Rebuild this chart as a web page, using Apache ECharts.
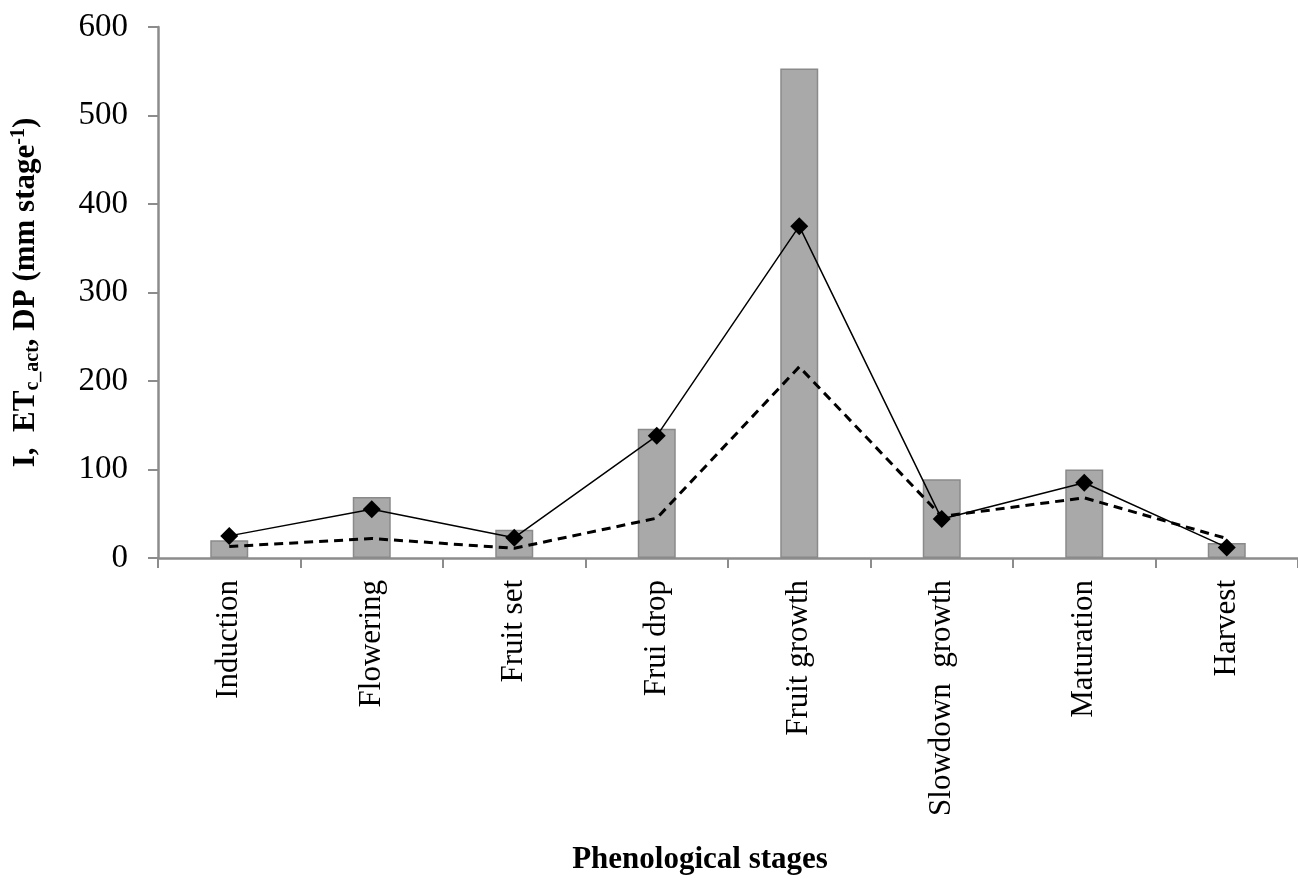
<!DOCTYPE html>
<html>
<head>
<meta charset="utf-8">
<script src="https://cdn.jsdelivr.net/npm/echarts@6/dist/echarts.min.js"></script>
<style>html,body{margin:0;padding:0;background:#fff}#c{width:1298px;height:881px}</style>
</head>
<body>
<div id="c"></div>
<script>
const categories = ['Induction','Flowering','Fruit set','Frui drop','Fruit growth','Slowdown  growth','Maturation','Harvest'];
const barValues = [20, 69, 32, 146, 553, 89, 100, 17];
const solidValues = [25, 55, 23, 138, 375, 44, 85, 12];
const dashedValues = [13, 22, 11, 45, 216, 47, 68, 22];
const yTicks = [0, 600, 100];

const chart = echarts.init(document.getElementById('c'));
const serif = '"Liberation Serif", "Times New Roman", serif';
chart.setOption({
  backgroundColor: '#fff',
  animation: false,
  grid: {left: 158, right: 0, top: 27, bottom: 323},
  xAxis: {
    type: 'category',
    data: categories,
    name: 'Phenological stages',
    nameLocation: 'middle',
    nameGap: 286,
    nameTextStyle: {fontFamily: serif, fontSize: 31, fontWeight: 'bold', color: '#000', padding: [0, 56, 0, 0]},
    axisLine: {lineStyle: {color: '#8c8c8c', width: 2.5}},
    axisTick: {show: true, length: 10, lineStyle: {color: '#8c8c8c', width: 2}},
    axisLabel: {rotate: 90, margin: 22, fontFamily: serif, fontSize: 31, color: '#000', interval: 0}
  },
  yAxis: {
    type: 'value',
    min: yTicks[0], max: yTicks[1], interval: yTicks[2],
    name: '{b|I,  ET}{s|c_act}{b|, DP (mm stage}{p|-1}{b|)}',
    nameLocation: 'middle',
    nameGap: 112,
    nameRotate: 90,
    nameTextStyle: {
      rich: {
        b: {fontFamily: serif, fontSize: 31, fontWeight: 'bold', color: '#000', lineHeight: 40},
        s: {fontFamily: serif, fontSize: 20, fontWeight: 'bold', color: '#000', padding: [14, 0, 0, 0]},
        p: {fontFamily: serif, fontSize: 20, fontWeight: 'bold', color: '#000', padding: [0, 0, 14, 0]}
      }
    },
    splitLine: {show: false},
    axisLine: {show: true, lineStyle: {color: '#8c8c8c', width: 2.5}},
    axisTick: {show: true, length: 10, lineStyle: {color: '#8c8c8c', width: 2}},
    axisLabel: {margin: 30, fontFamily: serif, fontSize: 33, color: '#000'}
  },
  series: [
    {
      type: 'bar', data: barValues, barWidth: 38,
      itemStyle: {color: '#a9a9a9', borderColor: '#8a8a8a', borderWidth: 1.5}
    },
    {
      type: 'line', data: dashedValues, symbol: 'none',
      lineStyle: {color: '#000', width: 3, type: [9, 6]}
    },
    {
      type: 'line', data: solidValues, symbol: 'diamond', symbolSize: 18,
      itemStyle: {color: '#000'},
      lineStyle: {color: '#000', width: 1.5}
    }
  ]
});
</script>
</body>
</html>
